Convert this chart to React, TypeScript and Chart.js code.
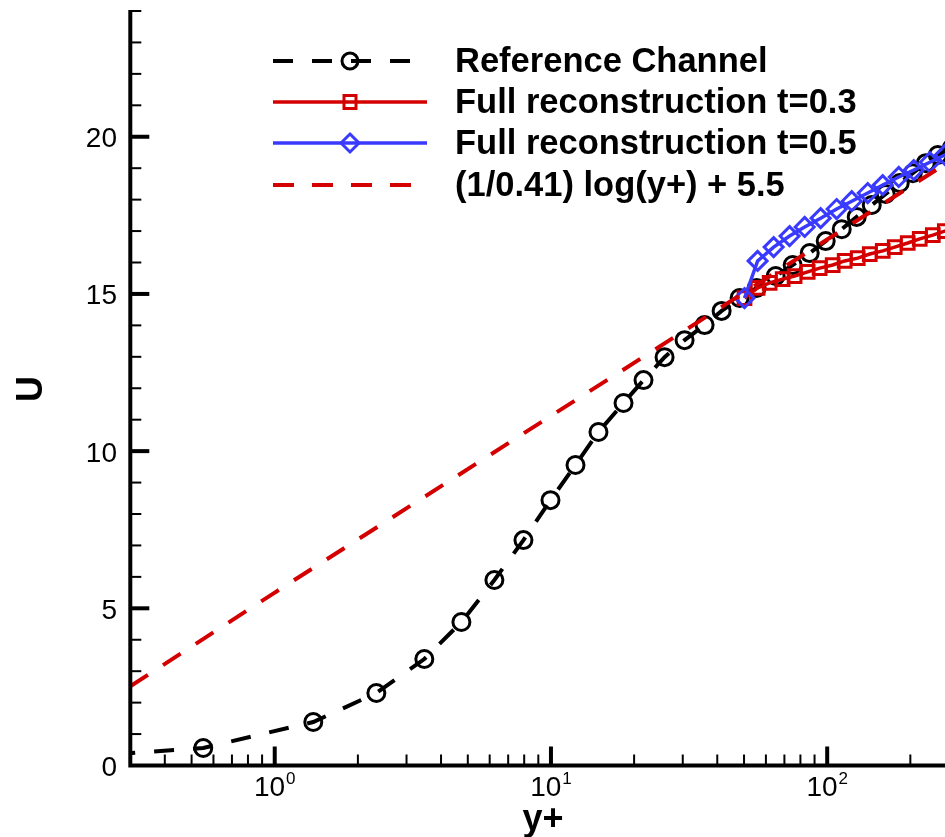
import React, { useEffect, useRef } from 'react';
import { Chart, registerables } from 'chart.js';

Chart.register(...registerables);

// ---- Data ----
const refYPlus = [0.1, 0.551, 1.379, 2.333, 3.48, 4.74, 6.24, 7.95, 9.96, 12.27, 14.86, 18.31, 21.63, 25.78, 30.46, 35.99, 41.48, 48.19, 55.55, 65.09, 74.99, 86.45, 98.77, 112.9, 127.9, 145.0, 162.9, 183.1, 204.1, 227.5, 251.4, 282.5];
const refU = [0.1, 0.557, 1.384, 2.306, 3.387, 4.564, 5.9, 7.17, 8.44, 9.56, 10.61, 11.53, 12.26, 12.99, 13.53, 14.01, 14.46, 14.87, 15.19, 15.57, 15.92, 16.3, 16.68, 17.06, 17.45, 17.83, 18.18, 18.53, 18.84, 19.16, 19.42, 19.64];

const t03YPlus = [50.2, 56.0, 61.9, 69.0, 76.2, 85.0, 93.9, 104.7, 115.7, 129.0, 142.6, 158.9, 175.6, 195.7, 216.3, 241.2, 266.6, 294.6];
const t03U = [14.87, 15.19, 15.35, 15.47, 15.57, 15.7, 15.82, 15.92, 16.05, 16.14, 16.27, 16.37, 16.49, 16.62, 16.75, 16.87, 17.0, 17.13];

const t05YPlus = [50.2, 56.0, 64.0, 73.1, 82.9, 94.7, 108.2, 122.7, 140.2, 158.9, 181.6, 205.8, 235.2, 266.6, 302.1];
const t05U = [14.87, 16.05, 16.49, 16.84, 17.13, 17.41, 17.7, 17.95, 18.21, 18.46, 18.72, 18.94, 19.19, 19.42, 19.64];

const logLawYPlus = [0.3, 1, 10, 100, 300];
const logLawU = [2.52, 5.5, 11.12, 16.73, 19.41];

const X_MIN = 0.3;
const X_MAX = 267;
const Y_MIN = 0;
const Y_MAX = 24;

const yTickLabels = [0, 5, 10, 15, 20];
const xDecades = [1, 10, 100];
const xDecadeExps = ['0', '1', '2'];

const seriesLabels = [
  'Reference Channel',
  'Full reconstruction t=0.3',
  'Full reconstruction t=0.5',
  '(1/0.41) log(y+) + 5.5',
];

const RED = '#d40000';
const BLUE = '#3a3aff';
const BLACK = '#000000';
const FONT = '"Liberation Sans", Arial, Helvetica, sans-serif';

const pts = (xs: number[], ys: number[]) => xs.map((x, i) => ({ x, y: ys[i] }));

const axesPlugin = {
  id: 'tecplotAxes',
  afterDraw(chart: any) {
    const ctx: CanvasRenderingContext2D = chart.ctx;
    const xs = chart.scales.x;
    const ys = chart.scales.y;
    const area = chart.chartArea;
    const x0 = xs.getPixelForValue(X_MIN);
    const y0 = ys.getPixelForValue(0);
    ctx.save();
    ctx.strokeStyle = BLACK;
    ctx.fillStyle = BLACK;
    ctx.lineCap = 'butt';

    // axis lines
    ctx.lineWidth = 4;
    ctx.beginPath();
    ctx.moveTo(x0, area.top - 1);
    ctx.lineTo(x0, y0 + 2);
    ctx.moveTo(x0 - 2, y0);
    ctx.lineTo(chart.width + 5, y0);
    ctx.stroke();

    // y ticks
    for (let v = 1; v <= Y_MAX; v++) {
      const py = ys.getPixelForValue(v);
      const major = v % 5 === 0;
      ctx.lineWidth = major ? 4 : 2;
      ctx.beginPath();
      ctx.moveTo(x0, py);
      ctx.lineTo(x0 + (major ? 19 : 11), py);
      ctx.stroke();
    }
    // x ticks
    for (let d = 0.1; d <= 1000; d *= 10) {
      for (let k = 1; k <= 9; k++) {
        const v = d * k;
        if (v <= X_MIN * 1.01 || v > X_MAX * 1.2) continue;
        const px = xs.getPixelForValue(v);
        const major = k === 1;
        ctx.lineWidth = major ? 4 : 2;
        ctx.beginPath();
        ctx.moveTo(px, y0);
        ctx.lineTo(px, y0 - (major ? 19 : 11));
        ctx.stroke();
      }
    }

    // y tick labels
    ctx.font = `28px ${FONT}`;
    ctx.textAlign = 'right';
    ctx.textBaseline = 'alphabetic';
    yTickLabels.forEach((v) => {
      const py = ys.getPixelForValue(v);
      ctx.fillText(String(v), 117, py + 10.5);
    });

    // x tick labels 10^n
    xDecades.forEach((v, i) => {
      const px = xs.getPixelForValue(v);
      ctx.font = `28px ${FONT}`;
      const wBase = ctx.measureText('10').width;
      ctx.font = `17px ${FONT}`;
      const wSup = ctx.measureText(xDecadeExps[i]).width;
      const start = px - (wBase + 1 + wSup) / 2;
      ctx.textAlign = 'left';
      ctx.font = `28px ${FONT}`;
      ctx.fillText('10', start, 796);
      ctx.font = `17px ${FONT}`;
      ctx.fillText(xDecadeExps[i], start + wBase + 1, 784);
    });

    // axis titles
    ctx.font = `bold 36px ${FONT}`;
    ctx.textAlign = 'center';
    ctx.fillText('y+', 543, 830);
    ctx.save();
    ctx.translate(42, 389);
    ctx.rotate(-Math.PI / 2);
    ctx.textAlign = 'center';
    ctx.fillText('U', 0, 0);
    ctx.restore();

    // legend
    const rows = [
      { y: 61, color: BLACK, dash: [20, 19], marker: 'circle' },
      { y: 102, color: RED, dash: [], marker: 'rect' },
      { y: 143, color: BLUE, dash: [], marker: 'diamond' },
      { y: 185, color: RED, dash: [21, 18], marker: 'none' },
    ];
    rows.forEach((r, i) => {
      ctx.strokeStyle = r.color;
      ctx.lineWidth = r.dash.length ? 4 : 3.5;
      ctx.setLineDash(r.dash);
      ctx.beginPath();
      ctx.moveTo(273, r.y);
      ctx.lineTo(427, r.y);
      ctx.stroke();
      ctx.setLineDash([]);
      const mx = 350;
      ctx.beginPath();
      if (r.marker === 'circle') {
        ctx.lineWidth = 3;
        ctx.arc(mx, r.y, 8, 0, Math.PI * 2);
      } else if (r.marker === 'rect') {
        ctx.lineWidth = 3;
        ctx.rect(mx - 6, r.y - 6.5, 12, 13);
      } else if (r.marker === 'diamond') {
        ctx.lineWidth = 3;
        ctx.moveTo(mx, r.y - 9);
        ctx.lineTo(mx + 9, r.y);
        ctx.lineTo(mx, r.y + 9);
        ctx.lineTo(mx - 9, r.y);
        ctx.closePath();
      }
      if (r.marker !== 'none') ctx.stroke();
      ctx.fillStyle = BLACK;
      ctx.font = `bold 34.5px ${FONT}`;
      ctx.textAlign = 'left';
      ctx.textBaseline = 'middle';
      ctx.fillText(seriesLabels[i], 455, r.y + 1);
    });
    ctx.restore();
  },
};

export default function App() {
  const ref = useRef<HTMLCanvasElement>(null);
  useEffect(() => {
    const canvas = ref.current;
    if (!canvas) return;
    const chart = new Chart(canvas, {
      type: 'line',
      data: {
        datasets: [
          {
            label: seriesLabels[0],
            data: pts(refYPlus, refU),
            borderColor: BLACK,
            borderWidth: 4,
            borderDash: [20, 19],
            pointStyle: 'circle',
            pointRadius: 8.5,
            pointBorderWidth: 3,
            pointBorderColor: BLACK,
            pointBackgroundColor: 'rgba(0,0,0,0)',
            tension: 0,
            order: 4,
          },
          {
            label: seriesLabels[1],
            data: pts(t03YPlus, t03U),
            borderColor: RED,
            borderWidth: 3.5,
            pointStyle: 'rect',
            pointRadius: 9,
            pointBorderWidth: 3,
            pointBorderColor: RED,
            pointBackgroundColor: 'rgba(0,0,0,0)',
            tension: 0,
            order: 3,
          },
          {
            label: seriesLabels[2],
            data: pts(t05YPlus, t05U),
            borderColor: BLUE,
            borderWidth: 3.5,
            pointStyle: 'rectRot',
            pointRadius: 9.5,
            pointBorderWidth: 3,
            pointBorderColor: BLUE,
            pointBackgroundColor: 'rgba(0,0,0,0)',
            tension: 0,
            order: 2,
          },
          {
            label: seriesLabels[3],
            data: pts(logLawYPlus, logLawU),
            borderColor: RED,
            borderWidth: 4,
            borderDash: [21, 18],
            pointRadius: 0,
            tension: 0,
            order: 1,
          },
        ],
      },
      options: {
        responsive: false,
        animation: false,
        devicePixelRatio: 1,
        events: [],
        layout: { autoPadding: false, padding: { left: 130.3, top: 11, right: 0, bottom: 71.5 } },
        scales: {
          x: {
            type: 'logarithmic',
            min: X_MIN,
            max: X_MAX,
            display: false,
          },
          y: {
            type: 'linear',
            min: Y_MIN,
            max: Y_MAX,
            display: false,
          },
        },
        plugins: {
          legend: { display: false },
          tooltip: { enabled: false },
        },
      } as any,
      plugins: [axesPlugin],
    });
    return () => chart.destroy();
  }, []);
  return (
    <canvas
      ref={ref}
      width={945}
      height={837}
      style={{ position: 'absolute', left: 0, top: 0, display: 'block', background: '#fff' }}
    />
  );
}
